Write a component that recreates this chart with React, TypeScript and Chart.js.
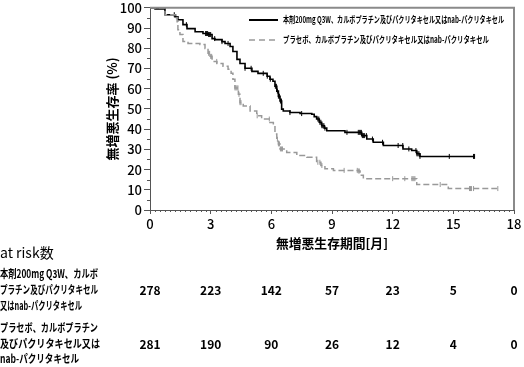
import React, { useEffect, useRef } from "react";
import { Chart, registerables } from "chart.js";
Chart.register(...registerables);

// Kaplan-Meier curve corners (months, %)
const pembroTimes = [0, 0.25, 0.74, 1.24, 1.38, 1.63, 1.83, 2.23, 2.62, 2.87, 3.07, 3.21, 3.56, 3.71, 3.96, 4.1, 4.3, 4.45, 4.7, 5.04, 5.34, 5.79, 5.93, 6.08, 6.18, 6.27, 6.35, 6.43, 6.51, 6.59, 6.92, 7.42, 8.0, 8.12, 8.24, 8.37, 8.49, 8.62, 8.74, 9.64, 10.3, 10.47, 10.72, 11.04, 11.54, 12.36, 12.51, 12.94, 13.19, 13.35, 16.07];
const pembroSurv = [100, 99.5, 96.6, 95.6, 94.1, 91.7, 89.7, 88.2, 87.3, 86.8, 84.8, 84.3, 83.3, 82.4, 80.9, 78.4, 74.5, 72.5, 70.1, 68.6, 67.6, 66.2, 64.7, 63.7, 61.2, 58.8, 56.3, 53.9, 49.9, 49.0, 48.2, 47.7, 47.4, 46.2, 45.0, 43.4, 41.7, 40.5, 39.2, 38.4, 38.4, 36.8, 35.1, 33.5, 31.9, 31.9, 30.2, 29.4, 27.8, 26.5, 26.5];
const placeboTimes = [0, 0.74, 1.24, 1.34, 1.38, 1.48, 1.63, 1.88, 2.47, 2.72, 2.87, 2.97, 3.07, 3.31, 3.61, 3.86, 4.01, 4.1, 4.2, 4.37, 4.45, 4.61, 4.95, 5.28, 5.52, 5.93, 6.1, 6.18, 6.27, 6.35, 6.43, 6.76, 7.26, 7.75, 8.24, 8.45, 8.65, 9.07, 10.3, 10.39, 10.55, 13.02, 13.19, 14.67, 14.75, 17.31];
const placeboSurv = [100, 96.6, 95.6, 93.1, 89.2, 86.8, 83.3, 82.4, 81.9, 79.9, 77.5, 76.0, 73.5, 72.5, 71.1, 69.6, 67.6, 64.7, 60.4, 57.2, 53.1, 51.5, 49.0, 46.6, 45.0, 43.3, 41.7, 37.6, 35.0, 32.7, 30.2, 28.5, 26.9, 26.1, 23.6, 22.0, 20.4, 19.6, 19.3, 17.2, 15.5, 15.5, 12.6, 12.6, 10.6, 10.6];

// Censoring times (months)
const pembroCensor = [1.2, 1.8, 2.75, 2.8, 2.85, 2.9, 2.95, 3.0, 3.2, 3.56, 3.86, 4.7, 5.0, 5.6, 5.8, 5.95, 6.2, 6.25, 6.3, 6.35, 6.4, 6.45, 6.5, 6.92, 7.5, 8.3, 8.35, 8.4, 8.45, 8.5, 8.55, 8.6, 8.65, 9.74, 10.3, 10.35, 10.4, 10.45, 10.5, 10.55, 10.6, 10.7, 11.0, 11.5, 12.27, 12.5, 12.8, 13.15, 13.2, 13.25, 13.3, 13.35, 14.8, 16.0, 16.05];
const placeboCensor = [1.3, 2.9, 2.95, 3.0, 3.05, 3.3, 4.2, 4.25, 4.3, 4.35, 4.4, 4.45, 4.5, 5.3, 5.9, 6.3, 6.35, 6.4, 6.45, 6.5, 6.55, 8.3, 8.4, 8.5, 9.6, 10.25, 10.3, 10.35, 12.0, 12.6, 12.95, 13.0, 13.05, 13.1, 14.35, 15.8, 15.85, 15.9, 16.0, 17.2];

// Number at risk
const atRiskTimes = [0, 3, 6, 9, 12, 15, 18];
const pembroAtRisk = [278, 223, 142, 57, 23, 5, 0];
const placeboAtRisk = [281, 190, 90, 26, 12, 4, 0];

const pembroLabel = "本剤200mg Q3W、カルボプラチン及びパクリタキセル又はnab-パクリタキセル";
const placeboLabel = "プラセボ、カルボプラチン及びパクリタキセル又はnab-パクリタキセル";
const pembroRowLabel = ["本剤200mg Q3W、カルボ", "プラチン及びパクリタキセル", "又はnab-パクリタキセル"];
const placeboRowLabel = ["プラセボ、カルボプラチン", "及びパクリタキセル又は", "nab-パクリタキセル"];
const yTitle = "無増悪生存率 (%)";
const xTitle = "無増悪生存期間[月]";
const atRiskTitle = "at risk数";

const FONT = "'Noto Sans CJK JP', 'Noto Sans', sans-serif";

function stepValue(times: number[], surv: number[], t: number) {
  let v = surv[0];
  for (let i = 0; i < times.length; i++) {
    if (times[i] <= t) v = surv[i];
  }
  return v;
}

function toPoints(times: number[], surv: number[]) {
  return times.map((t, i) => ({ x: t, y: surv[i] }));
}

export default function App() {
  const ref = useRef<HTMLCanvasElement>(null);
  useEffect(() => {
    document.body.style.margin = "0";
    const canvas = ref.current!;
    const overlay = {
      id: "overlay",
      afterDraw(chart: any) {
        const ctx = chart.ctx as CanvasRenderingContext2D;
        const a = chart.chartArea;
        const xs = chart.scales.x;
        const ys = chart.scales.y;
        ctx.save();
        // frame top and right
        ctx.strokeStyle = "#8a8a8a";
        ctx.lineWidth = 2;
        ctx.beginPath();
        ctx.moveTo(a.left, a.top);
        ctx.lineTo(a.right, a.top);
        ctx.lineTo(a.right, a.bottom);
        ctx.stroke();
        // minor ticks
        ctx.strokeStyle = "#555";
        ctx.lineWidth = 1;
        ctx.beginPath();
        for (let v = 5; v < 100; v += 10) {
          const y = Math.round(ys.getPixelForValue(v)) + 0.5;
          ctx.moveTo(a.left - 3, y);
          ctx.lineTo(a.left, y);
        }
        for (let v = 0.25; v < 18; v += 0.25) {
          if (Math.abs(v / 3 - Math.round(v / 3)) < 1e-6) continue;
          const x = Math.round(xs.getPixelForValue(v)) + 0.5;
          ctx.moveTo(x, a.bottom);
          ctx.lineTo(x, a.bottom + 2);
        }
        ctx.stroke();

        // axis titles
        ctx.fillStyle = "#000";
        ctx.font = `bold 13px ${FONT}`;
        ctx.textAlign = "center";
        ctx.textBaseline = "middle";
        ctx.fillText(xTitle, (a.left + a.right) / 2, 243, 112);
        ctx.save();
        ctx.translate(112, (a.top + a.bottom) / 2);
        ctx.rotate(-Math.PI / 2);
        ctx.fillText(yTitle, 0, 0, 112);
        ctx.restore();

        // legend
        ctx.lineWidth = 2;
        ctx.strokeStyle = "#000";
        ctx.beginPath();
        ctx.moveTo(249, 20);
        ctx.lineTo(278, 20);
        ctx.stroke();
        ctx.strokeStyle = "#999";
        ctx.lineWidth = 1.5;
        ctx.setLineDash([6, 4]);
        ctx.beginPath();
        ctx.moveTo(249, 40);
        ctx.lineTo(278, 40);
        ctx.stroke();
        ctx.setLineDash([]);
        ctx.font = `bold 9px ${FONT}`;
        ctx.textAlign = "left";
        ctx.fillText(pembroLabel, 283, 20, 221);
        ctx.fillText(placeboLabel, 283, 40, 206);

        // at risk table
        ctx.font = `14px ${FONT}`;
        ctx.fillText(atRiskTitle, 0, 253, 67);
        ctx.font = `bold 11px ${FONT}`;
        const w1 = [98, 98, 82];
        const w2 = [98, 100, 79];
        pembroRowLabel.forEach((s, i) => ctx.fillText(s, 0, 274 + i * 16, w1[i]));
        placeboRowLabel.forEach((s, i) => ctx.fillText(s, 0, 328 + i * 15.5, w2[i]));
        ctx.font = `600 12px ${FONT}`;
        ctx.textAlign = "center";
        atRiskTimes.forEach((t, i) => {
          const x = xs.getPixelForValue(t);
          ctx.fillText(String(pembroAtRisk[i]), x, 290);
          ctx.fillText(String(placeboAtRisk[i]), x, 344);
        });
        ctx.restore();
      },
    };

    const chart = new Chart(canvas, {
      type: "line",
      data: {
        datasets: [
          {
            data: toPoints(placeboTimes, placeboSurv),
            borderColor: "#999",
            borderWidth: 1.5,
            borderDash: [6, 3],
            stepped: "before",
            pointRadius: 0,
            fill: false,
          },
          {
            data: toPoints(pembroTimes, pembroSurv),
            borderColor: "#000",
            borderWidth: 1.6,
            stepped: "before",
            pointRadius: 0,
            fill: false,
          },
          {
            data: placeboCensor.map((t) => ({ x: t, y: stepValue(placeboTimes, placeboSurv, t) })),
            showLine: false,
            pointStyle: "line",
            rotation: 90,
            pointRadius: 2.5,
            pointBorderWidth: 1,
            pointBorderColor: "#999",
            borderColor: "#999",
          },
          {
            data: pembroCensor.map((t) => ({ x: t, y: stepValue(pembroTimes, pembroSurv, t) })),
            showLine: false,
            pointStyle: "line",
            rotation: 90,
            pointRadius: 2.5,
            pointBorderWidth: 1,
            pointBorderColor: "#000",
            borderColor: "#000",
          },
        ] as any,
      },
      options: {
        responsive: false,
        animation: false,
        devicePixelRatio: 1,
        layout: { padding: { left: 0, right: 10, top: 6, bottom: 112 } },
        plugins: { legend: { display: false }, tooltip: { enabled: false } },
        scales: {
          x: {
            type: "linear",
            min: 0,
            max: 18,
            afterFit: (s: any) => { s.height = 45; },
            ticks: { stepSize: 3, color: "#000", padding: 2, font: { family: FONT, size: 13, weight: "500" } },
            grid: { drawOnChartArea: false, tickLength: 4, color: "#555" },
            border: { color: "#555", width: 1 },
          },
          y: {
            type: "linear",
            min: 0,
            max: 100,
            afterFit: (s: any) => { s.width = 150; },
            ticks: { stepSize: 10, color: "#000", padding: 2, font: { family: FONT, size: 13, weight: "500", lineHeight: 0.9 } },
            grid: { drawOnChartArea: false, tickLength: 6, color: "#555" },
            border: { color: "#555", width: 1 },
          },
        },
      } as any,
      plugins: [overlay],
    });
    return () => chart.destroy();
  }, []);
  return <canvas ref={ref} width={524} height={367} style={{ display: "block" }} />;
}
